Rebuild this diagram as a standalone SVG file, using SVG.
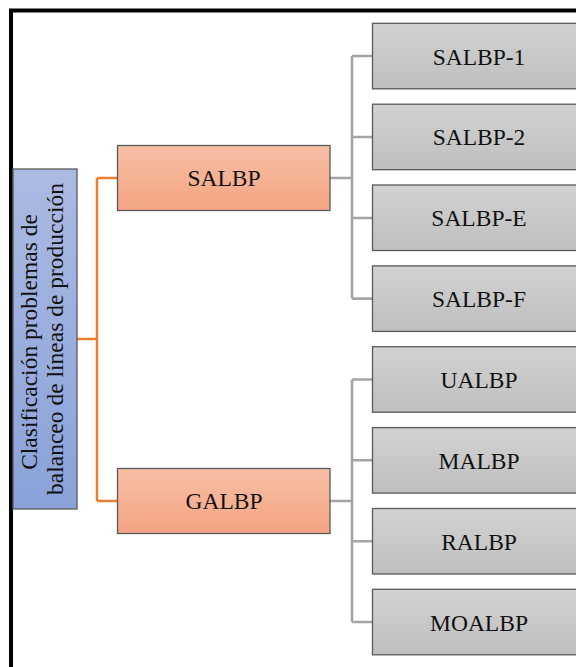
<svg xmlns="http://www.w3.org/2000/svg" width="576" height="667" viewBox="0 0 576 667">
  <defs>
    <linearGradient id="gBlue" x1="0" y1="0" x2="0" y2="1">
      <stop offset="0" stop-color="#abbae3"/>
      <stop offset="1" stop-color="#8aa2d8"/>
    </linearGradient>
    <linearGradient id="gOrange" x1="0" y1="0" x2="0" y2="1">
      <stop offset="0" stop-color="#f7bfa4"/>
      <stop offset="1" stop-color="#f4a482"/>
    </linearGradient>
    <linearGradient id="gGray" x1="0" y1="0" x2="0" y2="1">
      <stop offset="0" stop-color="#d2d2d2"/>
      <stop offset="1" stop-color="#bfbfbf"/>
    </linearGradient>
  </defs>
  <style>
    .box { stroke: #5a5a5a; stroke-width: 1.3; }
    .root { fill: url(#gBlue); }
    .mid { fill: url(#gOrange); }
    .leaf { fill: url(#gGray); }
    .lbl { font-family: "Liberation Serif", "Times New Roman", serif; font-size: 23.5px; fill: #111; text-anchor: middle; }
    .rootlbl { font-family: "Liberation Serif", "Times New Roman", serif; font-size: 23.5px; fill: #111; text-anchor: middle; }
    .orange { fill: none; stroke: #ed7d31; stroke-width: 2.5; }
    .gray { fill: none; stroke: #a5a5a5; stroke-width: 2.6; }
  </style>

  <rect width="576" height="667" fill="#fff"/>
  <!-- outer frame -->
  <rect x="11" y="10.5" width="620" height="700" fill="none" stroke="#000" stroke-width="4"/>

  <g id="connectors">
    <path class="orange" d="M77 339 H97 M97 178 V501 M97 178 H117 M97 501 H117"/>
    <path class="gray" d="M330 178 H352 M352 56 V298.6 M352 56 H372 M352 137 H372 M352 218 H372 M352 298.6 H372"/>
    <path class="gray" d="M330 501 H352 M352 379.5 V622 M352 379.5 H372 M352 460.3 H372 M352 541.2 H372 M352 622 H372"/>
  </g>

  <g id="root">
    <rect class="box root" x="13" y="169" width="64" height="340"/>
    <text class="rootlbl" transform="translate(45 339) rotate(-90)">
      <tspan x="0" y="-8">Clasificación problemas de</tspan>
      <tspan x="0" y="18">balanceo de líneas de producción</tspan>
    </text>
  </g>

  <g id="salbp">
    <rect class="box mid" x="117.5" y="145.5" width="212.5" height="65"/>
    <text class="lbl" x="224" y="186">SALBP</text>
  </g>
  <g id="galbp">
    <rect class="box mid" x="117.5" y="468.5" width="212.5" height="65"/>
    <text class="lbl" x="224" y="509">GALBP</text>
  </g>

  <g id="salbp-1">
    <rect class="box leaf" x="372.5" y="23.3" width="212" height="65.5"/>
    <text class="lbl" x="479" y="64.5">SALBP-1</text>
  </g>
  <g id="salbp-2">
    <rect class="box leaf" x="372.5" y="104.2" width="212" height="65.5"/>
    <text class="lbl" x="479" y="145.4">SALBP-2</text>
  </g>
  <g id="salbp-e">
    <rect class="box leaf" x="372.5" y="185" width="212" height="65.5"/>
    <text class="lbl" x="479" y="226.2">SALBP-E</text>
  </g>
  <g id="salbp-f">
    <rect class="box leaf" x="372.5" y="265.9" width="212" height="65.5"/>
    <text class="lbl" x="479" y="307.1">SALBP-F</text>
  </g>
  <g id="ualbp">
    <rect class="box leaf" x="372.5" y="346.7" width="212" height="65.5"/>
    <text class="lbl" x="479" y="387.9">UALBP</text>
  </g>
  <g id="malbp">
    <rect class="box leaf" x="372.5" y="427.6" width="212" height="65.5"/>
    <text class="lbl" x="479" y="468.8">MALBP</text>
  </g>
  <g id="ralbp">
    <rect class="box leaf" x="372.5" y="508.5" width="212" height="65.5"/>
    <text class="lbl" x="479" y="549.7">RALBP</text>
  </g>
  <g id="moalbp">
    <rect class="box leaf" x="372.5" y="589.3" width="212" height="65.5"/>
    <text class="lbl" x="479" y="630.5">MOALBP</text>
  </g>
</svg>
